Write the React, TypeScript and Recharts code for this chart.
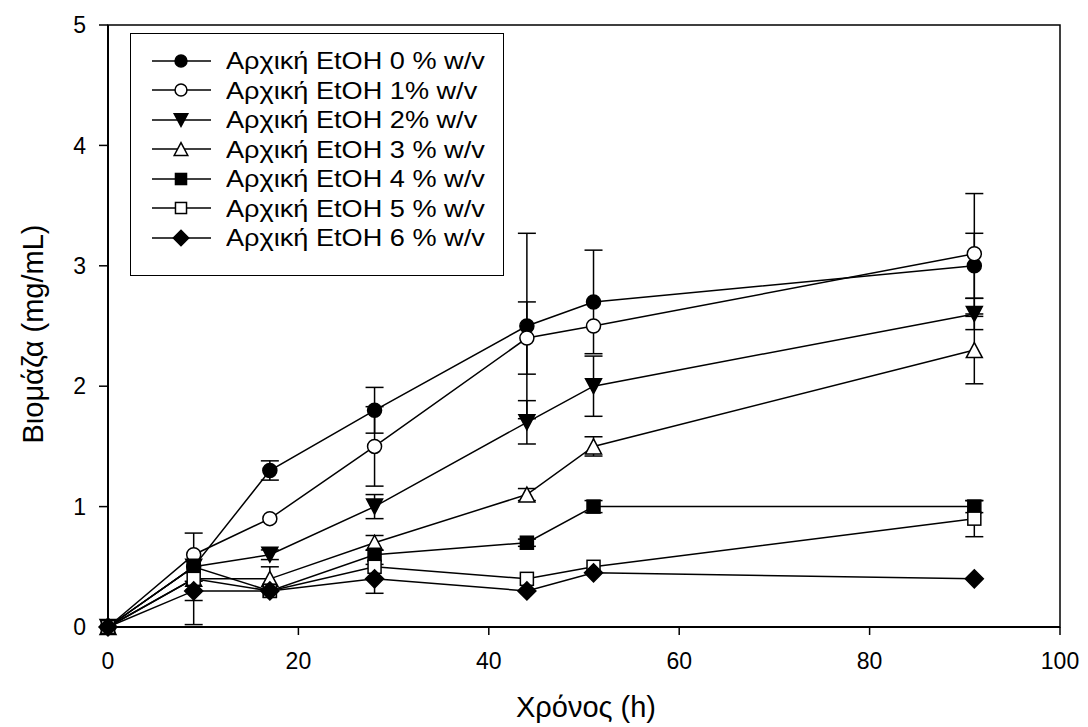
import React from 'react';
import {
    LineChart, Line, XAxis, YAxis, ErrorBar, Legend, ReferenceArea, Label
} from 'recharts';

// time points (h)
const hours = [0, 9, 17, 28, 44, 51, 91];

// biomass (mg/mL) per initial EtOH level
const etoh0 = [0, 0.5, 1.3, 1.8, 2.5, 2.7, 3.0];
const etoh1 = [0, 0.6, 0.9, 1.5, 2.4, 2.5, 3.1];
const etoh2 = [0, 0.5, 0.6, 1.0, 1.7, 2.0, 2.6];
const etoh3 = [0, 0.4, 0.4, 0.7, 1.1, 1.5, 2.3];
const etoh4 = [0, 0.5, 0.3, 0.6, 0.7, 1.0, 1.0];
const etoh5 = [0, 0.4, 0.3, 0.5, 0.4, 0.5, 0.9];
const etoh6 = [0, 0.3, 0.3, 0.4, 0.3, 0.45, 0.4];

// error bars (null = none visible)
const err0 = [null, null, 0.08, 0.19, 0.77, 0.43, 0.27];
const err1 = [null, null, null, 0.33, 0.3, null, 0.5];
const err2 = [null, null, 0.04, 0.1, 0.18, 0.25, 0.13];
const err3 = [null, 0.38, 0.1, 0.06, 0.05, 0.08, 0.28];
const err4 = [null, null, null, null, 0.03, 0.05, 0.05];
const err5 = [null, null, null, null, null, null, 0.15];
const err6 = [null, 0.08, null, 0.12, null, null, null];

const seriesNames = [
    'Αρχική EtOH 0 % w/v',
    'Αρχική EtOH 1% w/v',
    'Αρχική EtOH 2% w/v',
    'Αρχική EtOH 3 % w/v',
    'Αρχική EtOH 4 % w/v',
    'Αρχική EtOH 5 % w/v',
    'Αρχική EtOH 6 % w/v',
];

const values = [etoh0, etoh1, etoh2, etoh3, etoh4, etoh5, etoh6];
const errors = [err0, err1, err2, err3, err4, err5, err6];

type Shape = 'circle' | 'triDown' | 'triUp' | 'square' | 'diamond';
const markers: { shape: Shape; filled: boolean }[] = [
    { shape: 'circle', filled: true },
    { shape: 'circle', filled: false },
    { shape: 'triDown', filled: true },
    { shape: 'triUp', filled: false },
    { shape: 'square', filled: true },
    { shape: 'square', filled: false },
    { shape: 'diamond', filled: true },
];

const data = hours.map((h, i) => {
    const row: Record<string, number | null> = { h };
    values.forEach((v, s) => {
        row['v' + s] = v[i];
        row['e' + s] = errors[s][i];
    });
    return row;
});

const font = '"Liberation Sans", Arial, sans-serif';

function Marker({ cx, cy, shape, filled, s = 1 }: { cx: number; cy: number; shape: Shape; filled: boolean; s?: number }) {
    const fill = filled ? '#000' : '#fff';
    const common = { fill, stroke: '#000', strokeWidth: 1.5 };
    if (shape === 'circle') return <circle cx={cx} cy={cy} r={7 * s} {...common} />;
    if (shape === 'square') {
        const a = 6.5 * s;
        return <rect x={cx - a} y={cy - a} width={2 * a} height={2 * a} {...common} />;
    }
    if (shape === 'diamond') {
        const a = 9 * s;
        return <polygon points={`${cx},${cy - a} ${cx + a},${cy} ${cx},${cy + a} ${cx - a},${cy}`} {...common} />;
    }
    const w = 8 * s;
    const hgt = 7.5 * s;
    if (shape === 'triDown') {
        return <polygon points={`${cx - w},${cy - hgt} ${cx + w},${cy - hgt} ${cx},${cy + hgt}`} {...common} />;
    }
    return <polygon points={`${cx - w},${cy + hgt} ${cx + w},${cy + hgt} ${cx},${cy - hgt}`} {...common} />;
}

const makeDot = (idx: number) => (props: any) => {
    const { cx, cy, index } = props;
    if (cx == null || cy == null) return <g key={`d${idx}-${index}`} />;
    return (
        <g key={`d${idx}-${index}`}>
            <Marker cx={cx} cy={cy} shape={markers[idx].shape} filled={markers[idx].filled} />
        </g>
    );
};

const renderLegend = () => (
    <div
        style={{
            width: 374, height: 243, boxSizing: 'border-box', border: '1.5px solid #000',
            background: '#fff', paddingTop: 12, fontFamily: font, fontSize: 24,
        }}
    >
        {seriesNames.map((name, i) => (
            <div key={name} style={{ display: 'flex', alignItems: 'center', height: 29.5 }}>
                <svg width={88} height={24} style={{ display: 'block' }}>
                    <line x1={21} x2={80} y1={12} y2={12} stroke="#000" strokeWidth={1.5} />
                    <Marker cx={50} cy={12} shape={markers[i].shape} filled={markers[i].filled} s={0.85} />
                </svg>
                <span
                    style={{
                        display: 'inline-block', marginLeft: 7, color: '#000', whiteSpace: 'nowrap',
                        transform: 'scaleX(1.13)', transformOrigin: 'left center', lineHeight: '29px',
                    }}
                >
                    {name}
                </span>
            </div>
        ))}
    </div>
);

const App = () => {
    return (
        <div style={{ position: 'absolute', left: 0, top: 0, width: 1088, height: 727, background: '#fff' }}>
            <LineChart
                width={1088}
                height={727}
                data={data}
                margin={{ top: 25, right: 28, left: 0, bottom: 0 }}
            >
                <XAxis
                    dataKey="h"
                    type="number"
                    domain={[0, 100]}
                    ticks={[0, 20, 40, 60, 80, 100]}
                    height={100}
                    tickSize={8}
                    tickMargin={18}
                    axisLine={{ stroke: '#000', strokeWidth: 2 }}
                    tickLine={{ stroke: '#000', strokeWidth: 1.5 }}
                    tick={{ fill: '#000', fontSize: 23, fontFamily: font }}
                >
                    <Label
                        content={() => (
                            <text x={586} y={717} textAnchor="middle" fontSize={29} fontFamily={font} fill="#000">
                                Χρόνος (h)
                            </text>
                        )}
                    />
                </XAxis>
                <YAxis
                    type="number"
                    domain={[0, 5]}
                    ticks={[0, 1, 2, 3, 4, 5]}
                    width={108}
                    tickSize={9}
                    tickMargin={13}
                    axisLine={{ stroke: '#000', strokeWidth: 2 }}
                    tickLine={{ stroke: '#000', strokeWidth: 1.5 }}
                    tick={{ fill: '#000', fontSize: 23, fontFamily: font }}
                >
                    <Label
                        content={() => (
                            <text
                                x={33}
                                y={334}
                                transform="rotate(-90 33 334)"
                                textAnchor="middle"
                                dominantBaseline="central"
                                fontSize={29}
                                fontFamily={font}
                                fill="#000"
                            >
                                Βιομάζα (mg/mL)
                            </text>
                        )}
                    />
                </YAxis>
                <ReferenceArea x1={0} x2={100} y1={0} y2={5} fill="none" stroke="#000" strokeWidth={1.5} />
                {seriesNames.map((name, i) => (
                    <Line
                        key={name}
                        name={name}
                        dataKey={'v' + i}
                        type="linear"
                        stroke="#000"
                        strokeWidth={1.5}
                        dot={makeDot(i)}
                        activeDot={false}
                        isAnimationActive={false}
                    >
                        <ErrorBar dataKey={'e' + i} width={9} stroke="#000" strokeWidth={1.5} direction="y" />
                    </Line>
                ))}
                <Legend
                    layout="vertical"
                    verticalAlign="middle"
                    align="center"
                    content={renderLegend}
                    wrapperStyle={{ left: 130, top: 33, width: 374, height: 243 }}
                />
            </LineChart>
        </div>
    );
};

export default App;
